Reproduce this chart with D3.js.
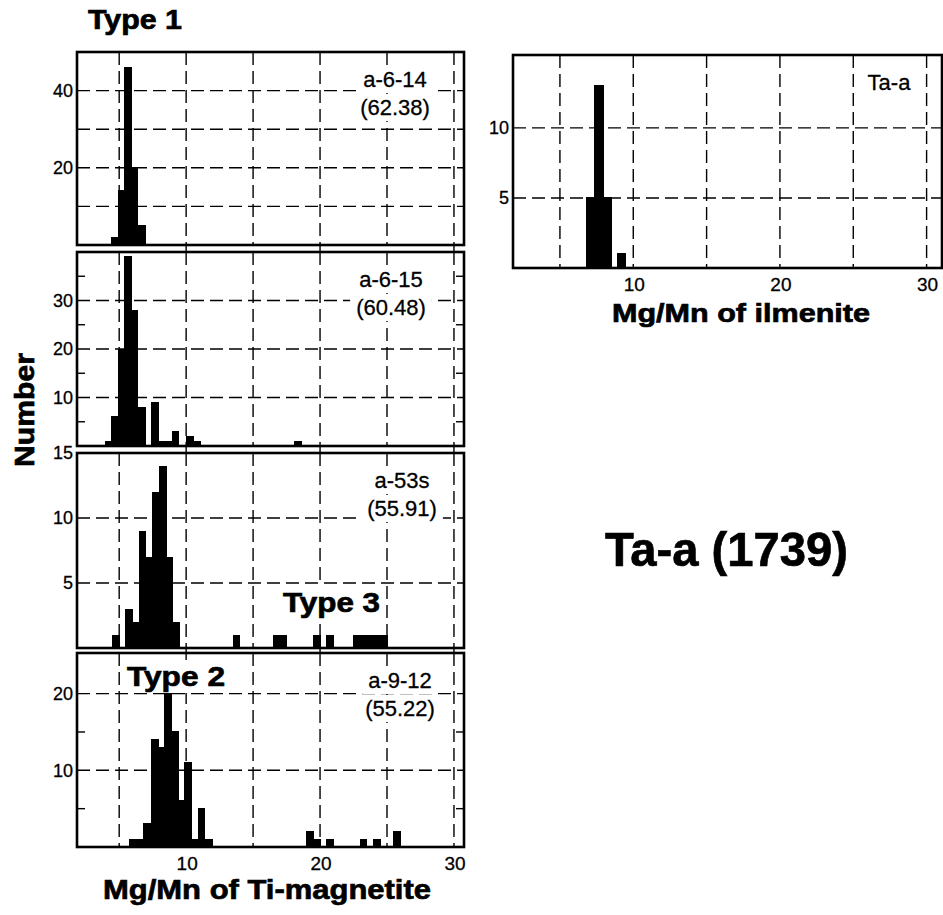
<!DOCTYPE html>
<html>
<head>
<meta charset="utf-8">
<script src="https://cdn.jsdelivr.net/npm/d3@7"></script>
<style>
  body { margin: 0; background: #fff; }
  svg { display: block; font-family: "Liberation Sans", Arial, Helvetica, sans-serif; }
</style>
</head>
<body>
<div id="chart"></div>
<script>
// histogram data: bin start (Mg/Mn), bin count
const a614Start = [4.4, 4.95, 5.4, 5.9, 6.45];
const a614Count = [2, 14, 46, 20, 5];

const a615Start = [4.0, 4.4, 4.95, 5.4, 5.9, 6.45, 7.45, 8.0, 8.45, 8.95, 10.05, 10.55, 18.1];
const a615Count = [1, 6, 20, 39, 28, 8, 9, 1, 1, 3, 2, 1, 1];

const a53sStart = [4.5, 5.5, 6.0, 6.5, 7.0, 7.5, 8.0, 8.5, 9.0, 13.5, 16.5, 17.0, 19.5, 20.5, 22.5, 23.0, 23.5, 24.0, 24.5];
const a53sCount = [1, 3, 2, 9, 7, 12, 14, 7, 2, 1, 1, 1, 1, 1, 1, 1, 1, 1, 1];

const a912Start = [5.8, 6.3, 6.85, 7.4, 7.9, 8.4, 8.9, 9.4, 9.9, 10.4, 10.9, 11.45, 19.0, 19.5, 20.5, 23.0, 24.0, 25.5];
const a912Count = [1, 1, 3, 14, 13, 20, 15, 6, 11, 1, 5, 1, 2, 1, 1, 1, 1, 2];

const ilmStart = [6.82, 7.39, 7.95, 8.91];
const ilmCount = [5, 13, 5, 1];

const sampleNames = ["a-6-14", "a-6-15", "a-53s", "a-9-12"];
const sampleValues = ["(62.38)", "(60.48)", "(55.91)", "(55.22)"];

const xTicks = [10, 20, 30];
const xGrid = [5, 10, 15, 20, 25, 30];

const yTicks1 = [20, 40];
const yGrid1 = [10, 20, 30, 40];
const yTicks2 = [10, 20, 30];
const yMinor2 = [5, 15, 25, 35];
const yTicks3 = [5, 10, 15];
const yGrid3 = [5, 10];
const yTicks4 = [10, 20];
const yMinor4 = [5, 15];
const yTicksIlm = [5, 10];

const width = 943;
const height = 915;
const dash = "13,6";

const svg = d3
  .select("#chart")
  .append("svg")
  .attr("width", width)
  .attr("height", height);

const xLeft = d3.scaleLinear().domain([1.85, 30.75]).range([77, 464]);
const xRight = d3.scaleLinear().domain([1.8, 31.05]).range([513, 942]);

const stretchText = (g, txt, x, y, size, len, anchor) =>
  g
    .append("text")
    .text(txt)
    .attr("x", x)
    .attr("y", y)
    .attr("font-size", size)
    .attr("font-weight", "bold")
    .attr("text-anchor", anchor || "start")
    .attr("textLength", len)
    .attr("lengthAdjust", "spacingAndGlyphs")
    .attr("stroke", "#000")
    .attr("stroke-width", 0.7);

// white box behind a text so the dashed grid stops around it
const clearBehind = (g, textSel, pad) => {
  const b = textSel.node().getBBox();
  g.insert("rect", () => textSel.node())
    .attr("x", b.x - pad)
    .attr("y", b.y - 1)
    .attr("width", b.width + pad * 2)
    .attr("height", b.height + 2)
    .attr("fill", "#fff");
};

const drawPanel = (p) => {
  const g = svg.append("g");
  const x = p.x;
  const y = d3.scaleLinear().domain([0, p.yMax]).range([p.bottom, p.top]);
  const [x0, x1] = x.range();

  // dashed grid
  g.append("g")
    .selectAll("line")
    .data(xGrid)
    .enter()
    .append("line")
    .attr("x1", (d) => x(d))
    .attr("x2", (d) => x(d))
    .attr("y1", p.top)
    .attr("y2", p.bottom)
    .attr("stroke", "#000")
    .attr("stroke-width", 1.4)
    .attr("stroke-dasharray", dash);

  g.append("g")
    .selectAll("line")
    .data(p.grid)
    .enter()
    .append("line")
    .attr("x1", x0)
    .attr("x2", x1)
    .attr("y1", (d) => y(d))
    .attr("y2", (d) => y(d))
    .attr("stroke", "#000")
    .attr("stroke-width", 1.4)
    .attr("stroke-dasharray", dash);

  // minor ticks on both sides
  const minor = g.append("g").selectAll("g").data(p.minor).enter().append("g");
  minor
    .append("line")
    .attr("x1", x0)
    .attr("x2", x0 + 8)
    .attr("y1", (d) => y(d))
    .attr("y2", (d) => y(d))
    .attr("stroke", "#000")
    .attr("stroke-width", 1.4);
  minor
    .append("line")
    .attr("x1", x1 - 8)
    .attr("x2", x1)
    .attr("y1", (d) => y(d))
    .attr("y2", (d) => y(d))
    .attr("stroke", "#000")
    .attr("stroke-width", 1.4);

  // sample label on a white patch
  const lab = g.append("g");
  p.label.forEach((t, i) => {
    const tx = lab
      .append("text")
      .text(t)
      .attr("x", p.labelX)
      .attr("y", p.top + 35 + i * 28)
      .attr("text-anchor", "middle")
      .attr("font-size", 22)
      .attr("stroke", "#000")
      .attr("stroke-width", 0.3);
    clearBehind(lab, tx, 6);
  });

  // bars
  const bins = p.starts.map((s, i) => ({ s: s, n: p.counts[i] }));
  g.append("g")
    .attr("shape-rendering", "crispEdges")
    .selectAll("rect")
    .data(bins)
    .enter()
    .append("rect")
    .attr("x", (d) => x(d.s))
    .attr("width", (d) => x(d.s + p.binW) - x(d.s))
    .attr("y", (d) => y(d.n))
    .attr("height", (d) => y(0) - y(d.n))
    .attr("fill", "#000")
    .attr("stroke", "#000")
    .attr("stroke-width", 1);

  // frame
  g.append("rect")
    .attr("x", x0)
    .attr("y", p.top)
    .attr("width", x1 - x0)
    .attr("height", p.bottom - p.top)
    .attr("fill", "none")
    .attr("stroke", "#000")
    .attr("stroke-width", 2.6);

  // y tick labels
  g.append("g")
    .selectAll("text")
    .data(p.ticks)
    .enter()
    .append("text")
    .text((d) => d)
    .attr("x", x0 - 4)
    .attr("y", (d) => y(d))
    .attr("dy", "0.36em")
    .attr("text-anchor", "end")
    .attr("font-size", 18)
    .attr("stroke", "#000")
    .attr("stroke-width", 0.3);

  // short outward ticks at the bottom
  if (p.outTicks) {
    g.append("g")
      .selectAll("line")
      .data(xTicks)
      .enter()
      .append("line")
      .attr("x1", (d) => x(d))
      .attr("x2", (d) => x(d))
      .attr("y1", p.bottom)
      .attr("y2", p.bottom + 6)
      .attr("stroke", "#000")
      .attr("stroke-width", 1.4);
  }

  // x tick labels
  if (p.xLabels) {
    g.append("g")
      .selectAll("text")
      .data(xTicks)
      .enter()
      .append("text")
      .text((d) => d)
      .attr("x", (d) => x(d) + 1)
      .attr("y", p.bottom + 23)
      .attr("text-anchor", "middle")
      .attr("font-size", 19)
      .attr("stroke", "#000")
      .attr("stroke-width", 0.3);
  }
};

const panels = [
  { x: xLeft, starts: a614Start, counts: a614Count, binW: 0.5, top: 52, bottom: 245, yMax: 50,
    ticks: yTicks1, grid: yGrid1, minor: [], outTicks: true, xLabels: false,
    label: [sampleNames[0], sampleValues[0]], labelX: 395 },
  { x: xLeft, starts: a615Start, counts: a615Count, binW: 0.5, top: 252, bottom: 446, yMax: 40,
    ticks: yTicks2, grid: yTicks2, minor: yMinor2, outTicks: true, xLabels: false,
    label: [sampleNames[1], sampleValues[1]], labelX: 391 },
  { x: xLeft, starts: a53sStart, counts: a53sCount, binW: 0.5, top: 453, bottom: 648, yMax: 15,
    ticks: yTicks3, grid: yGrid3, minor: [], outTicks: true, xLabels: false,
    label: [sampleNames[2], sampleValues[2]], labelX: 402 },
  { x: xLeft, starts: a912Start, counts: a912Count, binW: 0.5, top: 653, bottom: 847, yMax: 25.3,
    ticks: yTicks4, grid: yTicks4, minor: yMinor4, outTicks: false, xLabels: true,
    label: [sampleNames[3], sampleValues[3]], labelX: 400 },
  { x: xRight, starts: ilmStart, counts: ilmCount, binW: 0.56, top: 55, bottom: 268, yMax: 15.2,
    ticks: yTicksIlm, grid: yTicksIlm, minor: [], outTicks: false, xLabels: true,
    label: ["Ta-a"], labelX: 889 },
];

panels.forEach(drawPanel);

// titles
stretchText(svg, "Type 1", 88, 29, 28, 94);
const t3 = stretchText(svg, "Type 3", 283, 612, 28, 97);
clearBehind(svg, t3, 2);
const t2 = stretchText(svg, "Type 2", 127, 686, 28, 98);
clearBehind(svg, t2, 2);
stretchText(svg, "Mg/Mn of Ti-magnetite", 267, 899, 28, 328, "middle");
stretchText(svg, "Mg/Mn of ilmenite", 741, 322, 26, 258, "middle");
stretchText(svg, "Ta-a (1739)", 605, 566, 49, 243);

stretchText(svg, "Number", 0, 0, 28, 114, "middle")
  .attr("transform", "translate(34,410) rotate(-90)");
</script>
</body>
</html>
